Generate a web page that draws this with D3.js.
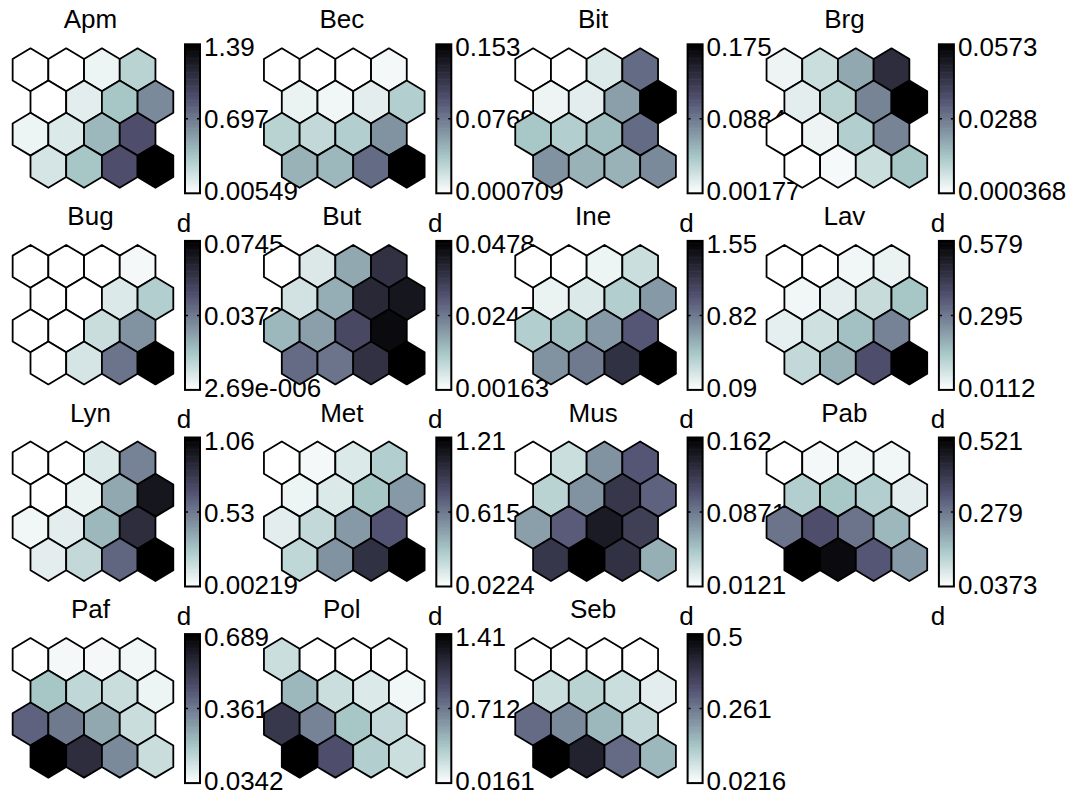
<!DOCTYPE html>
<html>
<head>
<meta charset="utf-8">
<script src="https://cdn.jsdelivr.net/npm/d3@7"></script>
<style>
  body { margin: 0; background: #fff; }
  text { font-family: Arial, "Liberation Sans", sans-serif; fill: #000; }
</style>
</head>
<body>
<svg id="chart" width="1081" height="799"></svg>
<script>
// component names and colorbar tick labels (max, mid, min)
const names = ["Apm","Bec","Bit","Brg","Bug","But","Ine","Lav","Lyn","Met","Mus","Pab","Paf","Pol","Seb"];
const maxLabels = ["1.39","0.153","0.175","0.0573","0.0745","0.0478","1.55","0.579","1.06","1.21","0.162","0.521","0.689","1.41","0.5"];
const midLabels = ["0.697","0.0769","0.0884","0.0288","0.0373","0.0247","0.82","0.295","0.53","0.615","0.0871","0.279","0.361","0.712","0.261"];
const minLabels = ["0.00549","0.000709","0.00177","0.000368","2.69e-006","0.00163","0.09","0.0112","0.00219","0.0224","0.0121","0.0373","0.0342","0.0161","0.0216"];

// 4x4 hexagonal map units, read row by row from the top
const apm = [0.0055,0.0055,0.075,0.282, 0.0055,0.116,0.352,0.628, 0.075,0.144,0.421,0.905, 0.172,0.352,0.905,1.39];
const bec = [0.0007,0.0007,0.0007,0.0053, 0.0098,0.0068,0.0129,0.0342, 0.0312,0.0266,0.0342,0.0647, 0.0494,0.0464,0.0845,0.153];
const bit = [0.0018,0.0018,0.019,0.097, 0.0104,0.0156,0.0676,0.175, 0.045,0.0399,0.0503,0.097, 0.0745,0.0572,0.0572,0.0797];
const brg = [0.0032,0.0089,0.0203,0.0459, 0.0049,0.0118,0.0271,0.0573, 0.00037,0.0032,0.0129,0.0271, 0.00037,0.002,0.0089,0.0146];
const bug = [0.0000027,0.0000027,0.0000027,0.0022, 0.0000027,0.0000027,0.0075,0.0164, 0.0000027,0.0000027,0.0112,0.0313, 0.0000027,0.0089,0.0387,0.0745];
const but = [0.0016,0.0063,0.0178,0.0377, 0.0076,0.0169,0.0395,0.0432, 0.0155,0.0192,0.0330,0.0455, 0.0270,0.0256,0.0377,0.0478];
const ine = [0.09,0.09,0.163,0.309, 0.178,0.236,0.411,0.674, 0.411,0.484,0.674,0.995, 0.703,0.82,1.229,1.55];
const lav = [0.0112,0.0112,0.034,0.0453, 0.034,0.0566,0.102,0.153, 0.051,0.0907,0.165,0.278, 0.108,0.193,0.38,0.579];
const lyn = [0.0022,0.0022,0.108,0.5, 0.0022,0.066,0.373,0.954, 0.0445,0.087,0.32,0.849, 0.087,0.182,0.605,1.06];
const met = [0.0224,0.058,0.141,0.284, 0.082,0.141,0.319,0.498, 0.117,0.224,0.498,0.771, 0.236,0.521,0.949,1.21];
const mus = [0.0121,0.0346,0.0751,0.105, 0.0421,0.0751,0.125,0.099, 0.069,0.102,0.144,0.12, 0.125,0.162,0.129,0.0616];
const pab = [0.0373,0.0518,0.0566,0.0566, 0.144,0.158,0.144,0.076, 0.289,0.352,0.289,0.182, 0.521,0.497,0.337,0.231];
const paf = [0.0342,0.054,0.054,0.06, 0.198,0.152,0.133,0.067, 0.414,0.362,0.264,0.133, 0.689,0.558,0.329,0.133];
const pol = [0.225,0.0161,0.0161,0.0161, 0.434,0.225,0.156,0.072, 1.062,0.671,0.365,0.253, 1.41,0.922,0.323,0.225];
const seb = [0.0216,0.0216,0.0216,0.0216, 0.0933,0.117,0.0933,0.06, 0.284,0.237,0.165,0.103, 0.5,0.428,0.284,0.165];

const planes = [apm,bec,bit,brg,bug,but,ine,lav,lyn,met,mus,pab,paf,pol,seb];

const svg = d3.select("#chart");

// reversed matlab "bone" colormap: white for low, black for high
function boneRev(t) {
    const x = 1 - Math.max(0, Math.min(1, t));
    const cl = v => Math.max(0, Math.min(1, v));
    const hr = cl(x / 0.375), hg = cl((x - 0.375) / 0.375), hb = cl((x - 0.75) / 0.25);
    return d3.rgb(255 * (7 * x + hb) / 8, 255 * (7 * x + hg) / 8, 255 * (7 * x + hr) / 8).toString();
}

// panel placement
const colX0 = 30.5, colStep = 251.3;   // centre of first hex of each panel
const rowTop0 = 48.3, rowStep = 196.6; // top vertex of the hex grid

// lattice units -> pixels
const s3 = Math.sqrt(3);
const hx = d3.scaleLinear().domain([0, 1]).range([0, 35.7]);
const hy = d3.scaleLinear().domain([0, s3 / 2]).range([0, 32.2]);
const hexPts = [[0,-1/s3],[0.5,-0.5/s3],[0.5,0.5/s3],[0,1/s3],[-0.5,0.5/s3],[-0.5,-0.5/s3]];
const hexPath = "M" + hexPts.map(p => hx(p[0]).toFixed(2) + "," + hy(p[1]).toFixed(2)).join("L") + "Z";

const fontSize = 26;

planes.forEach((vals, p) => {
    const c = p % 4, r = Math.floor(p / 4);
    const x0 = colX0 + colStep * c;
    const top = rowTop0 + rowStep * r;
    const vmin = parseFloat(minLabels[p]), vmax = parseFloat(maxLabels[p]);

    const color = d3.scaleSequential(boneRev).domain([vmin, vmax]).clamp(true);

    const g = svg.append("g");

    // hexagons
    g.selectAll("path.hex")
        .data(vals)
        .enter()
        .append("path")
        .attr("class", "hex")
        .attr("d", hexPath)
        .attr("transform", (d, k) => {
            const i = Math.floor(k / 4), j = k % 4;
            const cx = x0 + hx(j + (i % 2) * 0.5);
            const cy = top + hy(1 / s3) + hy(i * s3 / 2);
            return `translate(${cx},${cy})`;
        })
        .attr("fill", d => color(d))
        .attr("stroke", "#000")
        .attr("stroke-width", 1.8)
        .attr("stroke-linejoin", "round");

    // colorbar
    const barL = x0 + 154.5, barW = 15;
    const barTop = top - 4, barBot = top + 145;
    const by = d3.scaleLinear().domain([vmin, vmax]).range([barBot, barTop]);
    const steps = d3.range(64).map(k => vmin + (vmax - vmin) * k / 64);
    const dv = (vmax - vmin) / 64;
    g.selectAll("rect.cb")
        .data(steps)
        .enter()
        .append("rect")
        .attr("class", "cb")
        .attr("x", barL)
        .attr("width", barW)
        .attr("y", d => by(d + dv))
        .attr("height", d => by(d) - by(d + dv) + 0.6)
        .attr("fill", d => color(d + dv / 2));
    g.append("rect")
        .attr("x", barL).attr("y", barTop)
        .attr("width", barW).attr("height", barBot - barTop)
        .attr("fill", "none").attr("stroke", "#000").attr("stroke-width", 2);
    const midY = (barTop + barBot) / 2;
    g.append("path")
        .attr("d", `M${barL},${midY}h3M${barL + barW},${midY}h-3`)
        .attr("stroke", "#000").attr("stroke-width", 1.5);

    // tick labels
    const lx = barL + barW + 4;
    g.append("text").attr("x", lx).attr("y", barTop + 12).attr("font-size", fontSize).text(maxLabels[p]);
    g.append("text").attr("x", lx).attr("y", midY + 9.5).attr("font-size", fontSize).text(midLabels[p]);
    g.append("text").attr("x", lx).attr("y", barBot + 7).attr("font-size", fontSize).text(minLabels[p]);

    // colorbar label (the last row's falls below the page, so it is left out)
    if (r < 3) {
        g.append("text").attr("x", barL - 1).attr("y", barBot + 38.5)
            .attr("text-anchor", "middle").attr("font-size", fontSize).text("d");
    }

    // title
    g.append("text").attr("x", x0 + 60).attr("y", top - 20)
        .attr("text-anchor", "middle").attr("font-size", fontSize).text(names[p]);
});
</script>
</body>
</html>
